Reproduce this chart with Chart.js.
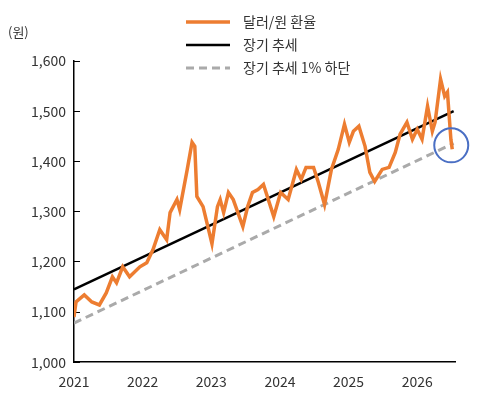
<!DOCTYPE html><html><head><meta charset="utf-8"><script src="https://cdn.jsdelivr.net/npm/chart.js@4"></script>
<style>html,body{margin:0;background:#fff}#w{width:481px;height:402px}</style></head><body><div id="w"><canvas id="c"></canvas></div>
<script>
const fxYears=[2021.0,2021.03,2021.15,2021.26,2021.37,2021.47,2021.56,2021.62,2021.71,2021.81,2021.96,2022.06,2022.15,2022.25,2022.35,2022.40,2022.50,2022.54,2022.65,2022.72,2022.76,2022.79,2022.88,2023.01,2023.09,2023.13,2023.18,2023.25,2023.32,2023.46,2023.53,2023.60,2023.68,2023.76,2023.91,2024.01,2024.12,2024.24,2024.31,2024.38,2024.49,2024.56,2024.65,2024.75,2024.85,2024.94,2025.01,2025.07,2025.15,2025.24,2025.31,2025.38,2025.49,2025.59,2025.68,2025.75,2025.85,2025.93,2026.00,2026.07,2026.15,2026.22,2026.26,2026.34,2026.40,2026.44,2026.49,2026.51];
const fxValues=[1090,1120,1134,1120,1114,1138,1170,1158,1190,1170,1190,1198,1224,1264,1244,1298,1324,1304,1384,1438,1430,1330,1310,1236,1310,1324,1298,1338,1324,1270,1310,1338,1344,1354,1290,1338,1324,1384,1364,1388,1388,1358,1314,1384,1424,1474,1438,1460,1470,1430,1378,1360,1384,1388,1418,1454,1478,1444,1464,1444,1510,1460,1478,1564,1530,1538,1444,1424];
const trendYears=[2021,2026.53], trendValues=[1145,1500];
const lowYears=[2021,2026.53], lowValues=[1078,1436];
const yTicks=[1000,1100,1200,1300,1400,1500,1600];
const xTicks=[2021,2022,2023,2024,2025,2026];
const legendLabels=['달러/원 환율','장기 추세','장기 추세 1% 하단'];
const F='"Noto Sans CJK KR","Noto Sans",sans-serif';
const pts=(xs,ys)=>xs.map((x,i)=>({x,y:ys[i]}));
const extra={id:'extra',afterDraw(ch){const c=ch.ctx,ds=ch.data.datasets;c.save();
 ds.forEach((d,i)=>{const y=22+i*23;c.beginPath();c.strokeStyle=d.borderColor;c.lineWidth=d.borderWidth;c.setLineDash(d.borderDash||[]);c.moveTo(186,y);c.lineTo(230,y);c.stroke();c.setLineDash([]);c.fillStyle='#333';c.font='14px '+F;c.textBaseline='middle';c.fillText(legendLabels[i],243,y);});
 c.font='13px '+F;c.fillStyle='#333';c.fillText('(원)',8,32);
 const xs=ch.scales.x,ys=ch.scales.y,n=fxYears.length-1;
 c.beginPath();c.strokeStyle='#4a6fc4';c.lineWidth=2;c.arc(xs.getPixelForValue(fxYears[n])-1,ys.getPixelForValue(fxValues[n])-4,17,0,Math.PI*2);c.stroke();c.restore();}};
new Chart(document.getElementById('c'),{type:'line',data:{datasets:[
 {data:pts(fxYears,fxValues),borderColor:'#ed7d31',borderWidth:3.5,pointRadius:0,tension:0},
 {data:pts(trendYears,trendValues),borderColor:'#000',borderWidth:2.5,pointRadius:0},
 {data:pts(lowYears,lowValues),borderColor:'#aaaaaa',borderWidth:3,borderDash:[8,5],pointRadius:0}]},
 options:{responsive:true,maintainAspectRatio:false,animation:false,layout:{padding:{top:61,right:26,left:17,bottom:9}},
 plugins:{legend:{display:false},tooltip:{enabled:false}},
 scales:{x:{type:'linear',min:2021,max:2026.55,afterBuildTicks:a=>{a.ticks=xTicks.map(v=>({value:v}))},grid:{display:false,drawOnChartArea:false},border:{color:'#000',width:1.5},ticks:{color:'#333',font:{size:14,family:F},callback:v=>String(v),maxRotation:0}},
 y:{min:1000,max:1600,afterBuildTicks:a=>{a.ticks=yTicks.map(v=>({value:v}))},grid:{drawOnChartArea:false,tickLength:-6,color:'#000'},border:{color:'#000',width:1.5},ticks:{color:'#333',font:{size:14,family:F},padding:14,callback:v=>v.toLocaleString('en-US')}}}},
 plugins:[extra]});
</script></body></html>
